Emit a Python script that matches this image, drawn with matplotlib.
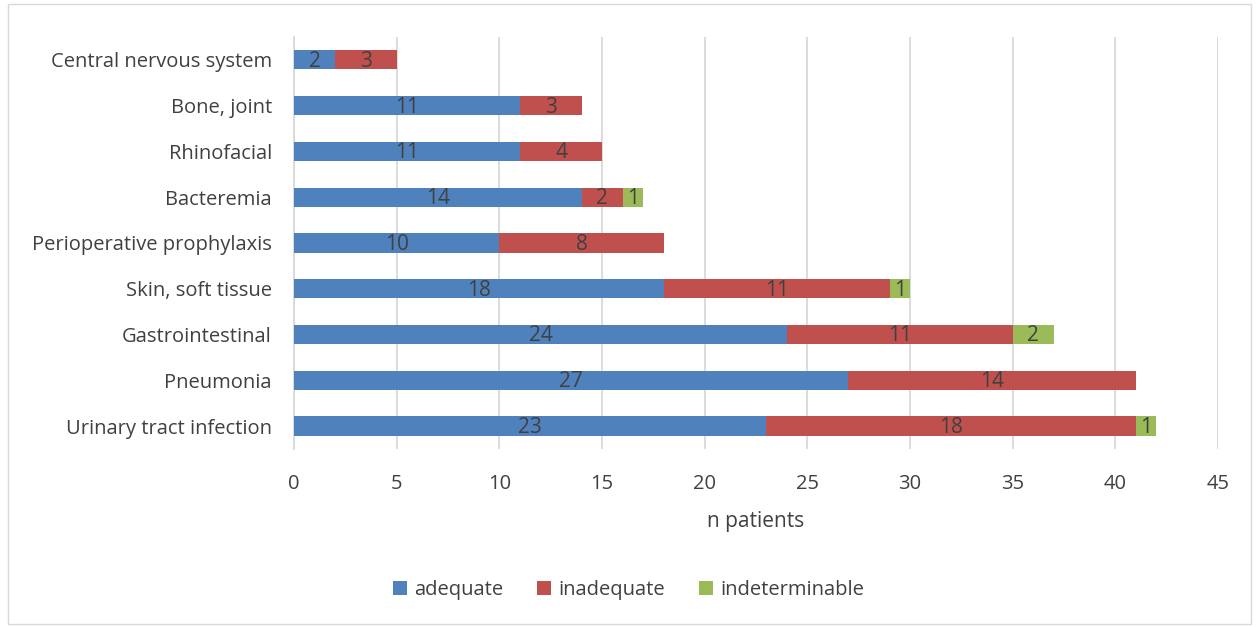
import matplotlib.pyplot as plt
import matplotlib.patches as mpatches
import numpy as np

categories = ["Urinary tract infection", "Pneumonia", "Gastrointestinal",
              "Skin, soft tissue", "Perioperative prophylaxis", "Bacteremia",
              "Rhinofacial", "Bone, joint", "Central nervous system"]
adequate = [23, 27, 24, 18, 10, 14, 11, 11, 2]
inadequate = [18, 14, 11, 11, 8, 2, 4, 3, 3]
indeterminable = [1, 0, 2, 1, 0, 1, 0, 0, 0]

series = [("adequate", adequate, "#4F81BD"),
          ("inadequate", inadequate, "#C0504D"),
          ("indeterminable", indeterminable, "#9BBB59")]

txt = "#404040"
plt.rcParams["font.family"] = ["Open Sans", "DejaVu Sans"]

fig = plt.figure(figsize=(12.57, 6.27), dpi=100)
ax = fig.add_axes([0.234, 0.284, 0.735, 0.657])

y = np.arange(len(categories))
left = np.zeros(len(categories))
for name, vals, col in series:
    vals = np.array(vals, dtype=float)
    bars = ax.barh(y, vals, left=left, height=0.42, color=col, label=name, zorder=3)
    for b, v in zip(bars, vals):
        if v > 0:
            ax.text(b.get_x() + b.get_width() / 2, b.get_y() + b.get_height() / 2 - 0.03,
                    f"{int(v)}", ha="center", va="center", fontsize=15,
                    color=txt, zorder=4)
    left += vals

ax.set_xlim(0, 45)
ax.set_ylim(-0.5, len(categories) - 0.5)
ax.set_xticks(range(0, 46, 5))
ax.set_yticks(y)
ax.set_yticklabels(categories)
ax.tick_params(axis="both", length=0, labelsize=14.5, colors=txt)
ax.tick_params(axis="x", pad=18)
ax.tick_params(axis="y", pad=16)
ax.grid(axis="x", color="#D9D9D9", linewidth=1.3, zorder=0)
for s in ["top", "right", "bottom"]:
    ax.spines[s].set_visible(False)
ax.spines["left"].set_color("#D9D9D9")
ax.spines["left"].set_linewidth(1.3)
ax.set_xlabel("n patients", fontsize=15, color=txt, labelpad=12)

# legend centred on the figure, below the axis title
leg_x = (0.5 - 0.234) / 0.735
leg_y = (0.059 - 0.284) / 0.657
ax.legend(loc="center", bbox_to_anchor=(leg_x, leg_y),
          ncol=3, frameon=False, fontsize=14.5, handlelength=0.7, handleheight=0.7,
          handletextpad=0.35, columnspacing=1.7, labelcolor=txt)

fig.patches.append(mpatches.Rectangle((0.006, 0.004), 0.989, 0.99, transform=fig.transFigure,
                                      fill=False, edgecolor="#D9D9D9", linewidth=1))

fig.savefig("out.png", dpi=100)
